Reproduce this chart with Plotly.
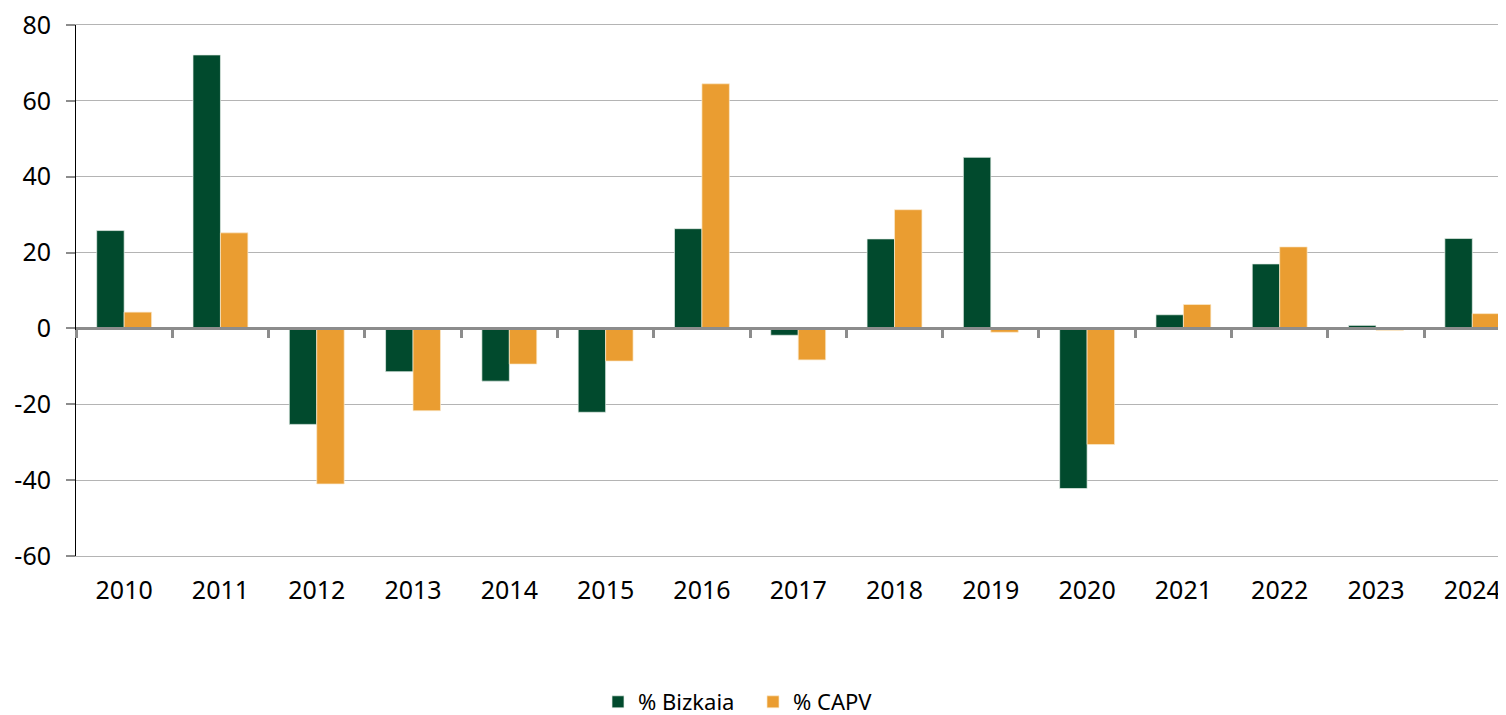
import plotly.graph_objects as go

years = [str(y) for y in range(2010, 2025)]
bizkaia = [25.8, 72.1, -25.3, -11.4, -13.9, -22.1, 26.3, -1.8, 23.6, 45.1, -42.2, 3.6, 17.0, 0.8, 23.7]
capv = [4.3, 25.2, -41.0, -21.7, -9.4, -8.6, 64.5, -8.3, 31.3, -1.0, -30.6, 6.3, 21.5, -0.5, 3.9]
y_ticks = [-60, -40, -20, 0, 20, 40, 60, 80]
y_labels = ["-60", "-40", "-20", "0", "20", "40", "60", "80"]

GREEN = "#014A2D"
ORANGE = "#EA9D31"
GRID = "#b4b4b4"
FONT = "Noto Sans"

fig = go.Figure()
fig.add_trace(go.Bar(name="% Bizkaia", x=years, y=bizkaia, marker=dict(color=GREEN, line=dict(color="#e8efe9", width=0.7))))
fig.add_trace(go.Bar(name="% CAPV", x=years, y=capv, marker=dict(color=ORANGE, line=dict(color="#fbe9cc", width=0.7))))
# invisible helper trace for the zero-level category axis (boundary ticks)
fig.add_trace(go.Scatter(x=[0], y=[0], xaxis="x2", mode="markers", marker=dict(opacity=0),
                         showlegend=False, hoverinfo="skip"))

n = len(years)
xr = [-0.5, n - 0.65]

# page body has an 8px margin; figure sized so the plot lands at the reference position
fig.update_layout(
    width=1498, height=715,
    margin=dict(l=68, r=0, t=17, b=166),
    paper_bgcolor="white", plot_bgcolor="white",
    barmode="group", bargap=0.43, bargroupgap=0,
    font=dict(family=FONT, color="#000000", size=25),
    xaxis=dict(range=xr, showgrid=False, showline=True, linecolor=GRID, linewidth=1, mirror=True,
               ticks="", zeroline=False, automargin=False,
               tickfont=dict(size=25), ticklabelstandoff=12),
    xaxis2=dict(overlaying="x", anchor="free", position=60/140, range=xr, automargin=False,
                tickmode="linear", tick0=-0.5, dtick=1, ticks="outside", ticklen=8,
                tickwidth=2.5, tickcolor="#8c8c8c", showticklabels=False,
                showline=True, linecolor="#8c8c8c", linewidth=3, showgrid=False, zeroline=False),
    yaxis=dict(range=[-60, 80], tickvals=y_ticks, ticktext=y_labels, automargin=False,
               showgrid=True, gridcolor=GRID, gridwidth=1, ticklabeloverflow="allow",
               zeroline=False, showline=True, linecolor="#000000", linewidth=1,
               ticks="outside", ticklen=9, tickcolor="#8c8c8c", tickwidth=1.5,
               tickfont=dict(size=25), ticklabelstandoff=10),
    legend=dict(orientation="h", x=(598 - 76) / 1430, xanchor="left", y=-0.274, yanchor="middle",
                font=dict(size=22, family=FONT), entrywidth=110, entrywidthmode="pixels",
                traceorder="normal", bgcolor="rgba(0,0,0,0)"),
    showlegend=True,
)

fig.write_html("out.html")
